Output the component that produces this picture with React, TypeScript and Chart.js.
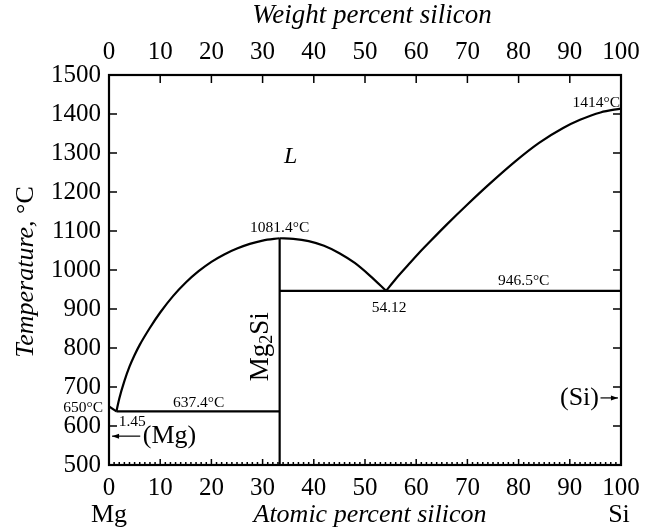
import React, { useEffect, useRef } from "react";
import { Chart, registerables } from "chart.js";
Chart.register(...registerables);

// ---- Data ----
const tickValuesX = [0, 10, 20, 30, 40, 50, 60, 70, 80, 90, 100];
const tickValuesY = [500, 600, 700, 800, 900, 1000, 1100, 1200, 1300, 1400, 1500];

// Mg-side liquidus (650°C at pure Mg down to eutectic)
const mgMeltX = [0, 1.45];
const mgMeltY = [650, 637.4];

// Liquidus from Mg-rich eutectic up to Mg2Si congruent melting point
const liqAX = [1.45, 2, 3, 4, 5, 6, 8, 10, 12.5, 15, 17.5, 20, 22.5, 25, 27.5, 30, 33.33];
const liqAY = [637.4, 670, 715, 752, 782, 808, 852, 891, 933, 968, 997, 1021, 1040, 1055, 1067, 1075.5, 1081.4];

// Liquidus from Mg2Si down to Si-rich eutectic
const liqBX = [33.33, 36, 39, 42, 45, 48, 51, 54.12];
const liqBY = [1081.4, 1080, 1074, 1062, 1043, 1018, 985, 946.5];

// Si liquidus
const liqCX = [54.12, 56, 58.5, 60.5, 62.7, 66, 70, 74, 79.3, 84, 88.7, 92, 96, 100];
const liqCY = [946.5, 977, 1014, 1043, 1073, 1117, 1168, 1217, 1278, 1326, 1364, 1385, 1404, 1414];

// Eutectic isotherms and compound line
const eutAX = [1.45, 33.33];
const eutAY = [637.4, 637.4];
const eutBX = [33.33, 100];
const eutBY = [946.5, 946.5];
const compoundX = [33.33, 33.33];
const compoundY = [500, 1081.4];

const toPts = (xs: number[], ys: number[]) => xs.map((x, i) => ({ x, y: ys[i] }));

const SERIF = '"Liberation Serif", "Times New Roman", serif';
const W = 656;
const H = 532;

export default function App() {
  const ref = useRef<HTMLCanvasElement | null>(null);

  useEffect(() => {
    if (!ref.current) return;

    const line = (data: { x: number; y: number }[], curve = false) => ({
      data,
      showLine: true,
      borderColor: "#000",
      borderWidth: 2.2,
      pointRadius: 0,
      cubicInterpolationMode: curve ? "monotone" : "default",
      tension: 0,
      fill: false,
    });

    const annotate = {
      id: "annotate",
      afterDraw(chart: any) {
        const ctx = chart.ctx as CanvasRenderingContext2D;
        const xs = chart.scales.x;
        const ys = chart.scales.y;
        const ca = chart.chartArea;
        const px = (v: number) => xs.getPixelForValue(v);
        const py = (v: number) => ys.getPixelForValue(v);
        ctx.save();
        ctx.strokeStyle = "#000";
        ctx.fillStyle = "#000";

        // frame
        ctx.lineWidth = 2.2;
        ctx.strokeRect(ca.left, ca.top, ca.right - ca.left, ca.bottom - ca.top);

        // ticks (inward)
        ctx.lineWidth = 1.5;
        ctx.beginPath();
        for (const v of tickValuesY) {
          const y = py(v);
          ctx.moveTo(ca.left, y);
          ctx.lineTo(ca.left + 8, y);
          ctx.moveTo(ca.right, y);
          ctx.lineTo(ca.right - 8, y);
        }
        for (const v of tickValuesX) {
          const x = px(v);
          ctx.moveTo(x, ca.top);
          ctx.lineTo(x, ca.top + 8);
        }
        for (let v = 0; v <= 100; v++) {
          const x = px(v);
          ctx.moveTo(x, ca.bottom);
          ctx.lineTo(x, ca.bottom - (v % 10 === 0 ? 6 : 3));
        }
        ctx.stroke();

        const text = (s: string, x: number, y: number, font: string, align: CanvasTextAlign = "center") => {
          ctx.font = font;
          ctx.textAlign = align;
          ctx.textBaseline = "middle";
          ctx.fillText(s, x, y);
        };
        const small = `15.5px ${SERIF}`;
        const big = `26px ${SERIF}`;
        const titleI = `italic 26px ${SERIF}`;
        const titleR = `26px ${SERIF}`;

        // axis titles
        text("Weight percent silicon", 372, 16, `italic 27px ${SERIF}`);
        text("Atomic percent silicon", 370, 515, titleI);
        text("Mg", px(0), 515, titleR);
        text("Si", px(100) - 2, 515, titleR);

        // y title rotated
        {
          ctx.save();
          ctx.translate(26, 272);
          ctx.rotate(-Math.PI / 2);
          ctx.textBaseline = "middle";
          ctx.textAlign = "left";
          const s1 = "Temperature, ";
          ctx.font = titleI;
          const w1 = ctx.measureText(s1).width;
          ctx.font = titleR;
          const w2 = ctx.measureText("°C").width;
          const start = -(w1 + w2) / 2;
          ctx.font = titleI;
          ctx.fillText(s1, start, 0);
          ctx.font = titleR;
          ctx.fillText("°C", start + w1, 0);
          ctx.restore();
        }

        // Mg2Si rotated label
        {
          ctx.save();
          ctx.translate(px(33.33) - 19, py(803));
          ctx.rotate(-Math.PI / 2);
          ctx.textBaseline = "middle";
          ctx.textAlign = "left";
          const fm = `27px ${SERIF}`;
          const fs = `18px ${SERIF}`;
          ctx.font = fm;
          const wa = ctx.measureText("Mg").width;
          const wc = ctx.measureText("Si").width;
          ctx.font = fs;
          const wb = ctx.measureText("2").width;
          const start = -(wa + wb + wc) / 2;
          ctx.font = fm;
          ctx.fillText("Mg", start, 0);
          ctx.font = fs;
          ctx.fillText("2", start + wa, 7);
          ctx.font = fm;
          ctx.fillText("Si", start + wa + wb, 0);
          ctx.restore();
        }

        // annotations
        text("L", px(35.5), py(1290), `italic 24px ${SERIF}`);
        text("1081.4°C", px(33.33), py(1081.4) - 10, small);
        text("54.12", px(54.12) + 3, py(946.5) + 17, small);
        text("946.5°C", px(81), py(946.5) - 10, small);
        text("1414°C", ca.right - 1, py(1414) - 6, small, "right");
        text("637.4°C", px(17.5), py(637.4) - 8, small);
        text("650°C", ca.left - 6, py(650) + 1, small, "right");
        text("1.45", px(1.9), py(600) - 4, small, "left");
        text("(Mg)", px(6.6), py(573), big, "left");
        text("(Si)", px(95.7), py(672), big, "right");

        // arrows
        const arrow = (x1: number, x2: number, y: number) => {
          ctx.lineWidth = 1.2;
          ctx.beginPath();
          ctx.moveTo(x1, y);
          ctx.lineTo(x2, y);
          ctx.stroke();
          const dir = x2 > x1 ? 1 : -1;
          ctx.beginPath();
          ctx.moveTo(x2, y);
          ctx.lineTo(x2 - dir * 7, y - 2.5);
          ctx.lineTo(x2 - dir * 7, y + 2.5);
          ctx.closePath();
          ctx.fill();
        };
        arrow(px(6.1), px(0.6), py(574));
        arrow(px(96), px(99.4), py(672));

        ctx.restore();
      },
    };

    const tickFont = { family: SERIF, size: 25 };
    const plain = (v: any) => String(v);

    const chart = new Chart(ref.current, {
      type: "scatter",
      data: {
        datasets: [
          line(toPts(mgMeltX, mgMeltY)),
          line(toPts(liqAX, liqAY), true),
          line(toPts(liqBX, liqBY), true),
          line(toPts(liqCX, liqCY), true),
          line(toPts(eutAX, eutAY)),
          line(toPts(eutBX, eutBY)),
          line(toPts(compoundX, compoundY)),
        ],
      },
      options: {
        animation: false,
        responsive: false,
        layout: { padding: 0 },
        plugins: { legend: { display: false }, tooltip: { enabled: false } },
        scales: {
          x: {
            type: "linear",
            position: "bottom",
            min: 0,
            max: 100,
            afterBuildTicks: (s: any) => { s.ticks = tickValuesX.map((v) => ({ value: v })); },
            ticks: { color: "#000", font: tickFont, padding: 0, maxRotation: 0, callback: plain },
            grid: { display: false },
            border: { display: false },
            afterFit: (s: any) => { s.height = H - 465; },
          },
          x2: {
            type: "linear",
            position: "top",
            min: 0,
            max: 100,
            afterBuildTicks: (s: any) => { s.ticks = tickValuesX.map((v) => ({ value: v })); },
            ticks: { color: "#000", font: tickFont, padding: 0, maxRotation: 0, callback: plain },
            grid: { display: false },
            border: { display: false },
            afterFit: (s: any) => { s.height = 75; },
          },
          y: {
            type: "linear",
            position: "left",
            min: 500,
            max: 1500,
            afterBuildTicks: (s: any) => { s.ticks = tickValuesY.map((v) => ({ value: v })); },
            ticks: { color: "#000", font: tickFont, padding: 0, callback: plain },
            grid: { display: false },
            border: { display: false },
            afterFit: (s: any) => { s.width = 109; },
          },
          y2: {
            type: "linear",
            position: "right",
            min: 500,
            max: 1500,
            ticks: { display: false },
            grid: { display: false },
            border: { display: false },
            afterFit: (s: any) => { s.width = W - 621; },
          },
        },
      },
      plugins: [annotate],
    } as any);

    return () => chart.destroy();
  }, []);

  return (
    <div style={{ position: "absolute", left: 0, top: 0, width: W, height: H }}>
      <canvas ref={ref} width={W} height={H} style={{ display: "block" }} />
    </div>
  );
}
